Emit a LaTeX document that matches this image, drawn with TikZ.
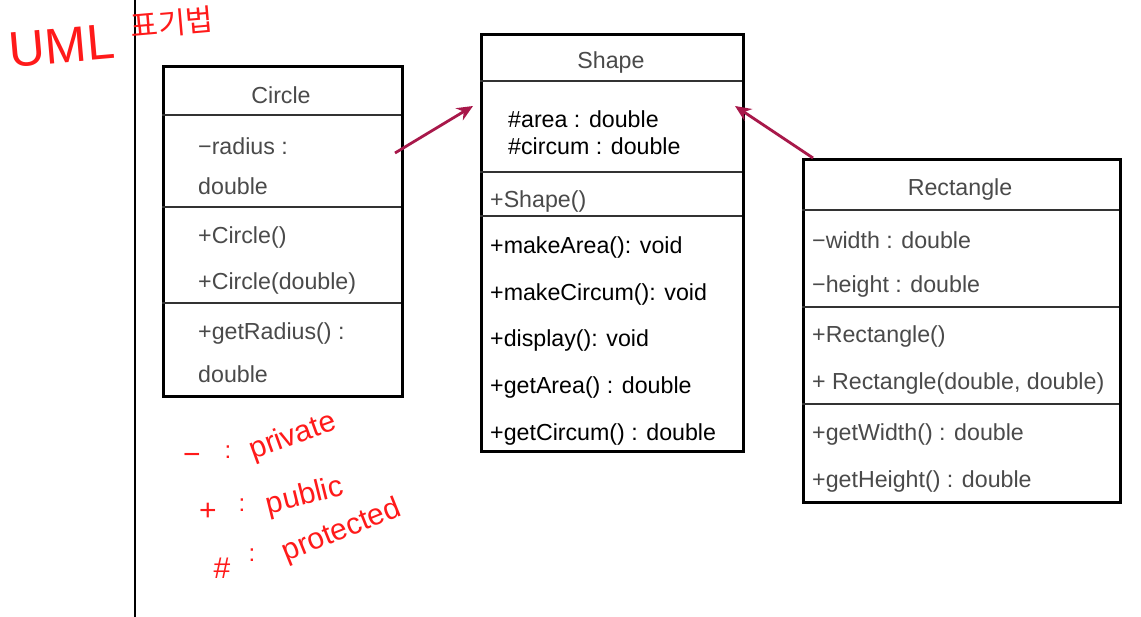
\documentclass[tikz,border=0pt]{standalone}
\usepackage{fontspec}
\setmainfont{Liberation Sans}
\newfontfamily\krfont{Noto Sans CJK KR}
\usetikzlibrary{arrows.meta}
\definecolor{txtgray}{HTML}{4A4A4A}
\definecolor{arrowred}{HTML}{A8184A}
\definecolor{handred}{HTML}{FF1A1A}
\begin{document}
\begin{tikzpicture}[x=1pt,y=-1pt,
  classbox/.style={draw=black, line width=2.6pt, rectangle, anchor=north west, inner sep=0pt},
  divider/.style={draw=black!80, line width=1.3pt},
  member/.style={anchor=west, inner sep=0pt, yshift=-3pt, text=txtgray, font=\fontsize{23.2}{27}\selectfont},
  strong/.style={member, text=black},
  title/.style={inner sep=0pt, yshift=-3pt, text=txtgray, font=\fontsize{23.2}{27}\selectfont},
  inherit/.style={draw=arrowred, line width=2.8pt, -{Stealth[length=16pt,width=14pt]}},
  hand/.style={text=handred, inner sep=0pt, font=\fontsize{30}{34}\selectfont}
]
\useasboundingbox (0,0) rectangle (1141,617);
\fill[white] (0,0) rectangle (1141,617);

% vertical page line
\coordinate (vtop) at (135,0);
\coordinate (vbot) at (135,617);
\draw[line width=2.2pt] (vtop) -- (vbot);

% ---------- Circle ----------
\node[classbox, minimum width=239pt, minimum height=330pt] (circ) at (162,65) {};
\draw[divider] (162,115) -- (401,115);
\draw[divider] (162,207) -- (401,207);
\draw[divider] (162,303) -- (401,303);
\node[title] (circT) at (281,92) {Circle};
\node[member] (c1) at (198,143) {−radius :};
\node[member] (c2) at (198,183) {double};
\node[member] (c3) at (198,234) {+Circle()};
\node[member] (c4) at (198,280) {+Circle(double)};
\node[member] (c5) at (198,331) {+getRadius() :};
\node[member] (c6) at (198,371) {double};

% ---------- Shape ----------
\node[classbox, minimum width=262pt, minimum height=417pt] (shape) at (480,33) {};
\draw[divider] (480,81) -- (742,81);
\draw[divider] (480,172) -- (742,172);
\draw[divider] (480,216) -- (742,216);
\node[title] (shapeT) at (611,60) {Shape};
\node[strong] (s1) at (508,116) {\#area : double};
\node[strong] (s2) at (508,143) {\#circum : double};
\node[member] (s3) at (490,199) {+Shape()};
\node[strong] (s4) at (490,244) {+makeArea(): void};
\node[strong] (s5) at (490,291) {+makeCircum(): void};
\node[strong] (s6) at (490,338) {+display(): void};
\node[strong] (s7) at (490,385) {+getArea() : double};
\node[strong] (s8) at (490,432) {+getCircum() : double};

% ---------- Rectangle ----------
\node[classbox, minimum width=317pt, minimum height=343pt] (rect) at (802,158) {};
\draw[divider] (802,210) -- (1119,210);
\draw[divider] (802,307) -- (1119,307);
\draw[divider] (802,404) -- (1119,404);
\node[title] (rectT) at (960,187) {Rectangle};
\node[member] (r1) at (812,237) {−width : double};
\node[member] (r2) at (812,284) {−height : double};
\node[member] (r3) at (812,334) {+Rectangle()};
\node[member] (r4) at (812,381) {+ Rectangle(double, double)};
\node[member] (r5) at (812,432) {+getWidth() : double};
\node[member] (r6) at (812,479) {+getHeight() : double};

% ---------- inheritance arrows ----------
\coordinate (circOut) at (395,153);
\coordinate (shapeInL) at (473,106);
\coordinate (rectOut) at (813,158);
\coordinate (shapeInR) at (735,106);
\draw[inherit] (circOut) -- (shapeInL);
\draw[inherit] (rectOut) -- (shapeInR);

% ---------- handwritten notes ----------
\node[hand, font=\fontsize{50}{54}\selectfont, rotate=5] (uml) at (62,46) {UML};
\node[hand, font=\krfont\fontsize{30}{34}\selectfont, rotate=5] (kr) at (172,23) {표기법};

\node[hand] (m1) at (192,459) {−};
\node[hand, font=\fontsize{24}{28}\selectfont] (m2) at (228,452) {:};
\node[hand, rotate=20] (m3) at (293,437) {private};

\node[hand] (p1) at (208,512) {+};
\node[hand, font=\fontsize{24}{28}\selectfont] (p2) at (242,505) {:};
\node[hand, rotate=14] (p3) at (305,497) {public};

\node[hand] (h1) at (222,568) {\#};
\node[hand, font=\fontsize{24}{28}\selectfont] (h2) at (252,555) {:};
\node[hand, rotate=22] (h3) at (342,531) {protected};
\end{tikzpicture}
\end{document}
